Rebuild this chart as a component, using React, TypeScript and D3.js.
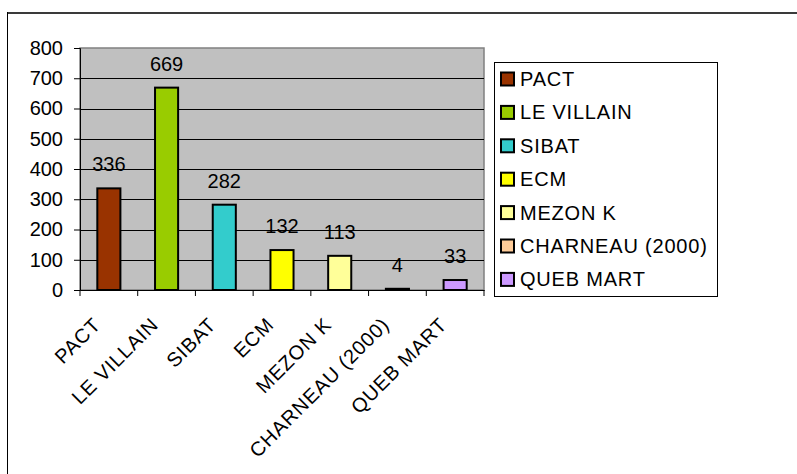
import { useEffect, useRef } from "react";
import * as d3 from "d3";

const categories = ["PACT", "LE VILLAIN", "SIBAT", "ECM", "MEZON K", "CHARNEAU (2000)", "QUEB MART"];
const values = [336, 669, 282, 132, 113, 4, 33];
const colors = ["#993300", "#99cc00", "#33cccc", "#ffff00", "#ffff99", "#ffcc99", "#cc99ff"];
const yTicks = [0, 100, 200, 300, 400, 500, 600, 700, 800];

const W = 797;
const H = 474;
const FONT = "'Liberation Sans', Arial, sans-serif";

export default function App() {
  const svgRef = useRef<SVGSVGElement | null>(null);

  useEffect(() => {
    if (!svgRef.current) return;
    const svg = d3.select(svgRef.current);
    svg.selectAll("*").remove();

    const plot = { left: 80, top: 48, right: 484, bottom: 290 };

    const x = d3.scaleBand<string>().domain(categories).range([plot.left, plot.right]).paddingInner(0.6).paddingOuter(0.3);
    const band = d3.scaleBand<string>().domain(categories).range([plot.left, plot.right]);
    const y = d3.scaleLinear().domain([0, 800]).range([plot.bottom, plot.top]);

    // outer chart frame (only top & left visible in window)
    svg.append("line").attr("x1", 7).attr("x2", W).attr("y1", 13).attr("y2", 13)
      .attr("stroke", "#3a3a3a").attr("stroke-width", 2);
    svg.append("line").attr("x1", 7.5).attr("x2", 7.5).attr("y1", 12).attr("y2", H)
      .attr("stroke", "#000").attr("stroke-width", 1);

    // plot background
    svg.append("rect")
      .attr("x", plot.left).attr("y", plot.top)
      .attr("width", plot.right - plot.left).attr("height", plot.bottom - plot.top)
      .attr("fill", "#c0c0c0").attr("stroke", "#808080").attr("stroke-width", 1.5);

    // gridlines
    svg.append("g").selectAll("line")
      .data(yTicks.filter(t => t > 0 && t < 800))
      .enter().append("line")
      .attr("x1", plot.left).attr("x2", plot.right)
      .attr("y1", d => Math.round(y(d)) + 0.5).attr("y2", d => Math.round(y(d)) + 0.5)
      .attr("stroke", "#000").attr("stroke-width", 1);

    // y axis
    const yAxis = svg.append("g").attr("transform", `translate(${plot.left},0)`)
      .call(d3.axisLeft(y).tickValues(yTicks).tickSize(6).tickPadding(11));
    yAxis.select(".domain").attr("stroke", "#000");
    yAxis.selectAll("text").attr("font-family", FONT).attr("font-size", 20).attr("fill", "#000");

    // x axis
    const xAxis = svg.append("g").attr("transform", `translate(0,${plot.bottom})`)
      .call(d3.axisBottom(band).tickSize(0).tickFormat(() => ""));
    xAxis.select(".domain").attr("stroke", "#000");
    const edges = d3.range(categories.length + 1).map(i => plot.left + i * band.step());
    svg.append("g").selectAll("line").data(edges).enter().append("line")
      .attr("x1", d => d).attr("x2", d => d)
      .attr("y1", plot.bottom).attr("y2", plot.bottom + 6)
      .attr("stroke", "#000");

    // x labels
    svg.append("g").selectAll("text").data(categories).enter().append("text")
      .attr("transform", d => `translate(${(band(d) ?? 0) + band.bandwidth() / 2 - 7},${plot.bottom + 36}) rotate(-45)`)
      .attr("text-anchor", "end")
      .attr("font-family", FONT).attr("font-size", 20).attr("letter-spacing", 0.8).attr("fill", "#000")
      .text(d => d);

    // bars
    svg.append("g").selectAll("rect").data(categories).enter().append("rect")
      .attr("x", d => x(d) ?? 0)
      .attr("y", (_d, i) => y(values[i]))
      .attr("width", x.bandwidth())
      .attr("height", (_d, i) => plot.bottom - y(values[i]))
      .attr("fill", (_d, i) => colors[i])
      .attr("stroke", "#000").attr("stroke-width", 2);

    // value labels
    svg.append("g").selectAll("text").data(categories).enter().append("text")
      .attr("x", d => (band(d) ?? 0) + band.bandwidth() / 2)
      .attr("y", (_d, i) => y(values[i]) - 17)
      .attr("text-anchor", "middle")
      .attr("font-family", FONT).attr("font-size", 20).attr("fill", "#000")
      .text((_d, i) => values[i]);

    // legend
    const lg = svg.append("g").attr("transform", "translate(494,62)");
    lg.append("rect").attr("x", 0.5).attr("y", 0.5).attr("width", 223).attr("height", 234)
      .attr("fill", "#fff").attr("stroke", "#000");
    const items = lg.selectAll("g.item").data(categories).enter().append("g")
      .attr("transform", (_d, i) => `translate(0,${17 + i * 33.4})`);
    items.append("rect").attr("x", 7).attr("y", -6.5).attr("width", 13).attr("height", 13)
      .attr("fill", (_d, i) => colors[i]).attr("stroke", "#000").attr("stroke-width", 2);
    items.append("text").attr("x", 26).attr("y", 7)
      .attr("font-family", FONT).attr("font-size", 20).attr("letter-spacing", 0.8).attr("fill", "#000")
      .text(d => d);
  }, []);

  return (
    <svg ref={svgRef} width={W} height={H}
      style={{ position: "absolute", left: 0, top: 0, background: "#fff" }} />
  );
}
